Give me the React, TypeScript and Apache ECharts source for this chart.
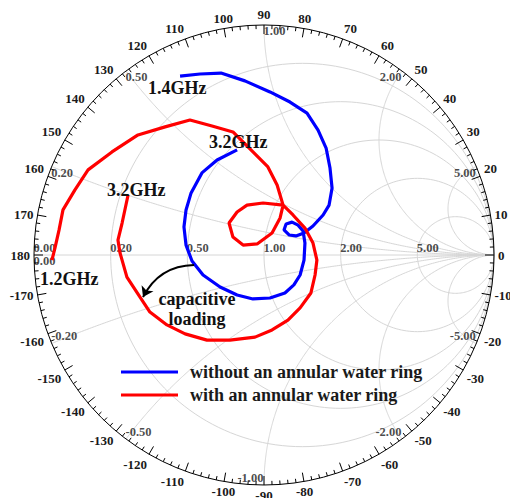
import React, { useEffect, useRef } from "react";
import * as echarts from "echarts";

const FONT = '"Times New Roman", "Liberation Serif", serif';

// Smith chart grid values (normalized resistance / reactance)
const gridValues = [0.2, 0.5, 1, 2, 5];

// Series names (legend)
const seriesNames = ["without an annular water ring", "with an annular water ring"];

// Reflection coefficient (Re, Im)
const blueGamma: number[][] = [
  [-0.365, 0.778], [-0.278, 0.787], [-0.187, 0.791], [-0.083, 0.757], [0.026, 0.709],
  [0.113, 0.665], [0.187, 0.617], [0.235, 0.543], [0.27, 0.465], [0.287, 0.378],
  [0.296, 0.291], [0.283, 0.217], [0.257, 0.174], [0.213, 0.126], [0.174, 0.096],
  [0.139, 0.083], [0.109, 0.087], [0.087, 0.109], [0.096, 0.135], [0.122, 0.143],
  [0.148, 0.13], [0.17, 0.104], [0.178, 0.052], [0.174, -0.022], [0.157, -0.087],
  [0.13, -0.13], [0.091, -0.165], [0.026, -0.187], [-0.048, -0.191], [-0.117, -0.174],
  [-0.191, -0.139], [-0.265, -0.087], [-0.313, -0.026], [-0.339, 0.043], [-0.348, 0.122],
  [-0.339, 0.196], [-0.317, 0.27], [-0.27, 0.357], [-0.204, 0.413], [-0.117, 0.457],
];

const redGamma: number[][] = [
  [-0.922, -0.022], [-0.909, 0.03], [-0.891, 0.109], [-0.874, 0.196], [-0.822, 0.283],
  [-0.765, 0.37], [-0.661, 0.448], [-0.548, 0.522], [-0.43, 0.557], [-0.322, 0.587],
  [-0.226, 0.561], [-0.135, 0.535], [-0.061, 0.461], [0.017, 0.383], [0.057, 0.304],
  [0.083, 0.217], [0.07, 0.161], [0.035, 0.096], [-0.03, 0.048], [-0.091, 0.043],
  [-0.135, 0.078], [-0.152, 0.139], [-0.117, 0.187], [-0.074, 0.217], [-0.004, 0.226],
  [0.083, 0.217], [0.126, 0.174], [0.178, 0.117], [0.213, 0.052], [0.23, -0.022],
  [0.222, -0.087], [0.204, -0.165], [0.157, -0.23], [0.104, -0.283], [0.035, -0.326],
  [-0.039, -0.357], [-0.148, -0.37], [-0.248, -0.37], [-0.343, -0.343], [-0.422, -0.304],
  [-0.496, -0.248], [-0.539, -0.183], [-0.596, -0.096], [-0.626, 0.009], [-0.635, 0.065],
  [-0.617, 0.139], [-0.591, 0.261],
];

// Annotation arrow (capacitive loading), in Gamma coordinates
const arrowGamma: number[][] = [[-0.304, -0.043], [-0.526, -0.183]];

const CX = 264;
const CY = 255;
const R = 230;

function gammaOf(r: number, x: number): number[] {
  const d = (r + 1) * (r + 1) + x * x;
  return [(r * r + x * x - 1) / d, (2 * x) / d];
}

function resistanceCircle(r: number): number[][] {
  const c = r / (r + 1);
  const rad = 1 / (r + 1);
  const pts: number[][] = [];
  for (let a = 0; a <= 360; a += 2) {
    const t = (a * Math.PI) / 180;
    pts.push([c + rad * Math.cos(t), rad * Math.sin(t)]);
  }
  return pts;
}

function reactanceArc(x: number): number[][] {
  const pts: number[][] = [];
  for (let t = 0; t < 0.999; t += 0.004) {
    const r = t / (1 - t);
    pts.push(gammaOf(r, x));
  }
  pts.push([1, 0]);
  return pts;
}

const GRID_COLOR = "#d6d6d6";

function gridSeries(data: number[][]) {
  return {
    type: "line",
    data,
    showSymbol: false,
    symbol: "none",
    silent: true,
    lineStyle: { color: GRID_COLOR, width: 1 },
    z: 1,
  };
}

function buildOption() {
  const series: any[] = [];
  gridValues.forEach((r) => series.push(gridSeries(resistanceCircle(r))));
  gridValues.forEach((x) => {
    series.push(gridSeries(reactanceArc(x)));
    series.push(gridSeries(reactanceArc(-x)));
  });
  series.push(gridSeries([[-1, 0], [1, 0]]));

  // grid labels
  const labelData: any[] = [];
  const lbl = (p: number[], text: string, align: string, va: string) =>
    labelData.push({ value: p, name: text, label: { align, verticalAlign: va } });
  lbl([-1, 0], "0.00", "left", "bottom");
  lbl([-1, 0], "0.00", "left", "top");
  gridValues.forEach((r) => lbl(gammaOf(r, 0), r.toFixed(2), "left", "bottom"));
  gridValues.forEach((x) => {
    lbl(gammaOf(0, x), x.toFixed(2), x <= 1 ? "left" : "right", "top");
    lbl(gammaOf(0, -x), "-" + x.toFixed(2), x < 1 ? "left" : "right", "bottom");
  });
  series.push({
    type: "scatter",
    data: labelData,
    symbolSize: 1,
    itemStyle: { color: "rgba(0,0,0,0)" },
    silent: true,
    z: 3,
    label: {
      show: true,
      position: [0, 0],
      formatter: "{b}",
      fontFamily: FONT,
      fontWeight: "bold",
      fontSize: 12.5,
      color: "#1a1a1a",
    },
  });

  series.push({
    name: seriesNames[0],
    type: "line",
    data: blueGamma,
    symbol: "none",
    showSymbol: false,
    lineStyle: { color: "#0000ff", width: 3.2 },
    itemStyle: { color: "#0000ff" },
    z: 5,
  });
  series.push({
    name: seriesNames[1],
    type: "line",
    data: redGamma,
    symbol: "none",
    showSymbol: false,
    lineStyle: { color: "#ff0000", width: 3.2 },
    itemStyle: { color: "#ff0000" },
    z: 5,
  });
  series.push({
    type: "lines",
    coordinateSystem: "cartesian2d",
    data: [{ coords: arrowGamma }],
    symbol: ["none", "arrow"],
    symbolSize: 10,
    lineStyle: { color: "#000", width: 2, curveness: -0.3, opacity: 1 },
    silent: true,
    z: 6,
  });

  const textStyle = (x: number, y: number, text: string, extra: any = {}) => ({
    type: "text",
    x,
    y,
    z: 10,
    style: {
      text,
      fill: "#111",
      font: `bold 18px ${FONT}`,
      verticalAlign: "middle",
      ...extra,
    },
  });

  return {
    animation: false,
    backgroundColor: "#fff",
    grid: { left: CX - R, top: CY - R, width: 2 * R, height: 2 * R },
    xAxis: { type: "value", min: -1, max: 1, show: false },
    yAxis: { type: "value", min: -1, max: 1, show: false },
    polar: { center: [CX, CY], radius: R },
    angleAxis: {
      type: "value",
      min: 0,
      max: 360,
      interval: 10,
      startAngle: 0,
      clockwise: false,
      axisLine: { show: true, lineStyle: { color: "#000", width: 1 } },
      axisTick: { show: true, inside: true, length: 9, lineStyle: { color: "#000", width: 1 } },
      minorTick: { show: true, splitNumber: 5, length: 4, lineStyle: { color: "#000", width: 1 } },
      splitLine: { show: false },
      axisLabel: {
        show: true,
        margin: 4,
        fontFamily: FONT,
        fontWeight: "bold",
        fontSize: 13,
        color: "#1a1a1a",
        formatter: (v: number) => (v === 360 ? "" : v > 180 ? String(v - 360) : String(v)),
      },
      z: 4,
    },
    radiusAxis: { type: "value", min: 0, max: 1, show: false },
    legend: {
      data: seriesNames,
      orient: "vertical",
      left: 121,
      top: 363,
      padding: 0,
      icon: "rect",
      itemWidth: 57,
      itemHeight: 3,
      itemGap: 5,
      textStyle: {
        fontFamily: FONT,
        fontWeight: "bold",
        fontSize: 18,
        color: "#1a1a1a",
        padding: [0, 0, 0, 7],
      },
    },
    graphic: [
      textStyle(148, 88, "1.4GHz"),
      textStyle(209, 142, "3.2GHz"),
      textStyle(107, 190, "3.2GHz"),
      textStyle(40, 279, "1.2GHz"),
      textStyle(197, 289, "capacitive\nloading", { align: "center", verticalAlign: "top", lineHeight: 20 }),
    ],
    series,
  };
}

export default function App() {
  const ref = useRef<HTMLDivElement>(null);
  useEffect(() => {
    if (!ref.current) return;
    const chart = echarts.init(ref.current, null, { renderer: "svg" });
    chart.setOption(buildOption() as any);
    return () => chart.dispose();
  }, []);
  return (
    <div
      ref={ref}
      style={{ position: "fixed", left: 0, top: 0, width: 510, height: 498, background: "#fff" }}
    />
  );
}
